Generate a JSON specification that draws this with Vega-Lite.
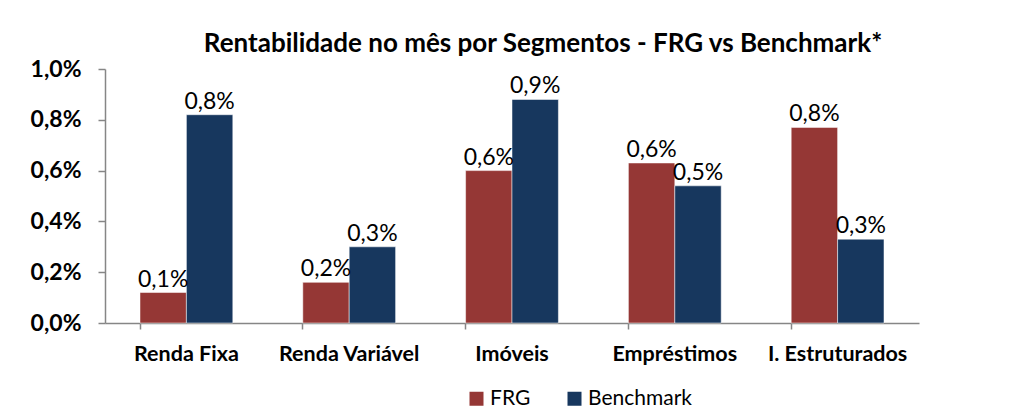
{
  "$schema": "https://vega.github.io/schema/vega-lite/v6.json",
  "autosize": {"type": "none"},
  "padding": {"left": 105, "top": 69, "right": 98, "bottom": 88},
  "width": 814,
  "height": 254,
  "background": "white",
  "config": {
    "font": "Lato",
    "view": {"stroke": null},
    "locale": {"number": {"decimal": ",", "thousands": ".", "grouping": [3], "currency": ["R$ ", ""]}}
  },
  "title": {
    "text": "Rentabilidade no mês por Segmentos - FRG vs Benchmark*",
    "fontSize": 26,
    "fontWeight": "bold",
    "color": "#000000",
    "anchor": "middle",
    "dx": 31,
    "offset": 1
  },
  "data": {
    "values": [
      {"segmento": "Renda Fixa", "serie": "FRG", "valor": 0.0012},
      {"segmento": "Renda Fixa", "serie": "Benchmark", "valor": 0.0082},
      {"segmento": "Renda Variável", "serie": "FRG", "valor": 0.0016},
      {"segmento": "Renda Variável", "serie": "Benchmark", "valor": 0.0030},
      {"segmento": "Imóveis", "serie": "FRG", "valor": 0.0060},
      {"segmento": "Imóveis", "serie": "Benchmark", "valor": 0.0088},
      {"segmento": "Empréstimos", "serie": "FRG", "valor": 0.0063},
      {"segmento": "Empréstimos", "serie": "Benchmark", "valor": 0.0054},
      {"segmento": "I. Estruturados", "serie": "FRG", "valor": 0.0077},
      {"segmento": "I. Estruturados", "serie": "Benchmark", "valor": 0.0033}
    ]
  },
  "encoding": {
    "x": {
      "field": "segmento",
      "type": "nominal",
      "sort": ["Renda Fixa", "Renda Variável", "Imóveis", "Empréstimos", "I. Estruturados"],
      "scale": {"paddingInner": 0.43, "paddingOuter": 0.215},
      "axis": {
        "title": null,
        "labelAngle": 0,
        "labelFontSize": 21.5,
        "labelFontWeight": "bold",
        "labelColor": "#000000",
        "labelPadding": 14,
        "bandPosition": 0,
        "tickSize": 6,
        "tickColor": "#868686",
        "domainColor": "#868686",
        "domainWidth": 1.5,
        "tickWidth": 1.5
      }
    },
    "xOffset": {"field": "serie", "type": "nominal", "sort": ["FRG", "Benchmark"]},
    "y": {
      "field": "valor",
      "type": "quantitative",
      "scale": {"domain": [0, 0.01], "nice": false},
      "axis": {
        "title": null,
        "values": [0, 0.002, 0.004, 0.006, 0.008, 0.01],
        "format": ".1%",
        "grid": false,
        "labelFontSize": 23,
        "labelFontWeight": "bold",
        "labelColor": "#000000",
        "labelPadding": 17,
        "tickSize": 7,
        "tickColor": "#868686",
        "domainColor": "#868686",
        "domainWidth": 1.5,
        "tickWidth": 1.5
      }
    }
  },
  "layer": [
    {
      "mark": {"type": "bar", "stroke": "#ffffff", "strokeWidth": 0.5},
      "encoding": {
        "color": {
          "field": "serie",
          "type": "nominal",
          "sort": ["FRG", "Benchmark"],
          "scale": {"domain": ["FRG", "Benchmark"], "range": ["#953735", "#17375E"]},
          "legend": {
            "title": null,
            "orient": "none",
            "direction": "horizontal",
            "legendX": 361,
            "legendY": 319,
            "symbolType": "square",
            "symbolSize": 196,
            "symbolStrokeWidth": 0,
            "labelFontSize": 21,
            "labelColor": "#000000",
            "columnPadding": 33,
            "labelOffset": 3
          }
        }
      }
    },
    {
      "mark": {"type": "text", "baseline": "bottom", "dy": -1, "fontSize": 23, "color": "#000000"},
      "encoding": {
        "text": {"field": "valor", "type": "quantitative", "format": ".1%"}
      }
    }
  ]
}
